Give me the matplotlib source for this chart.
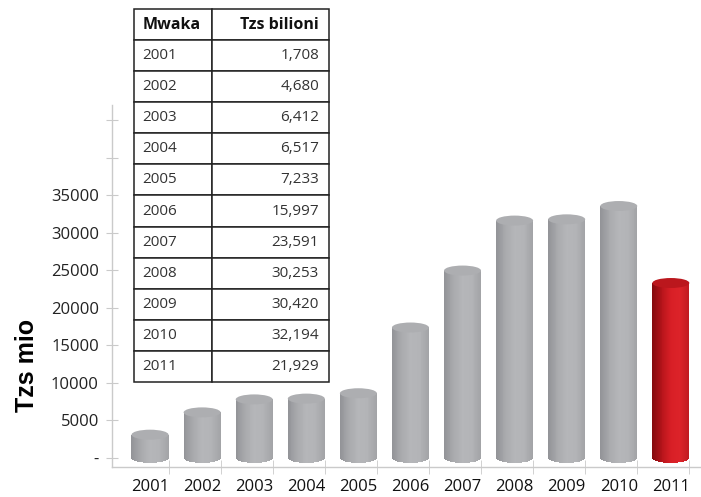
import numpy as np
import matplotlib
matplotlib.use('Agg')
import matplotlib.pyplot as plt
from matplotlib.patches import Ellipse
from matplotlib.colors import LinearSegmentedColormap

years = ['2001', '2002', '2003', '2004', '2005', '2006',
         '2007', '2008', '2009', '2010', '2011']
values = [1708, 4680, 6412, 6517, 7233, 15997,
          23591, 30253, 30420, 32194, 21929]
table_labels = ['1,708', '4,680', '6,412', '6,517', '7,233', '15,997',
                '23,591', '30,253', '30,420', '32,194', '21,929']
ytick_vals = list(range(0, 50000, 5000))
ytick_labels = ['-', '5000', '10000', '15000', '20000', '25000',
                '30000', '35000', '', '']

plt.rcParams['font.family'] = ['Open Sans', 'DejaVu Sans']

gray_cmap = LinearSegmentedColormap.from_list(
    'g', ['#939498', '#a9aaad', '#b5b6b9', '#b3b4b7', '#a3a4a7'])
red_cmap = LinearSegmentedColormap.from_list(
    'r', ['#860a0e', '#b5141a', '#d81f26', '#dc2329', '#c01b21'])
gray_top = '#adaeb1'
red_top = '#bb171d'

fig = plt.figure(figsize=(7.01, 4.97), dpi=100)
ax = fig.add_axes([0.1598, 0.0604, 0.8388, 0.7284])

bar_w = 0.71
ell_h = 1330      # ellipse height in data units
depth = 1400      # 3d offset of the top face
n_strips = 40

for i, v in enumerate(values):
    cmap = red_cmap if i == len(values) - 1 else gray_cmap
    top_col = red_top if i == len(values) - 1 else gray_top
    edges = np.linspace(i - bar_w / 2, i + bar_w / 2, n_strips + 1)
    mids = (edges[:-1] + edges[1:]) / 2
    rel = (mids - i) / (bar_w / 2)
    bottoms = -ell_h / 2 * np.sqrt(np.clip(1 - rel ** 2, 0, 1))
    top = v + depth
    cols = [cmap(t) for t in np.linspace(0, 1, n_strips)]
    ax.bar(mids, top - bottoms, bottom=bottoms, width=edges[1] - edges[0] + 0.002,
           color=cols, linewidth=0, zorder=3)
    ax.add_patch(Ellipse((i, top), bar_w, ell_h, facecolor=top_col,
                         edgecolor='none', zorder=4))

ax.set_xlim(-0.73, 10.56)
ax.set_ylim(-1200, 47067)

for s in ['top', 'right']:
    ax.spines[s].set_visible(False)
for s in ['left', 'bottom']:
    ax.spines[s].set_color('#cacaca')
    ax.spines[s].set_linewidth(1)

ax.set_yticks(ytick_vals)
ax.set_yticklabels(ytick_labels, fontsize=12, color='#222222')
ax.tick_params(axis='y', direction='inout', length=9, color='#cacaca', pad=5)

ax.set_xticks(range(len(years)))
ax.set_xticklabels(years, fontsize=12, color='#111111')
ax.tick_params(axis='x', which='major', length=0, pad=9)
ax.set_xticks([i + 0.355 for i in range(len(years))], minor=True)
ax.tick_params(axis='x', which='minor', direction='inout', length=10,
               color='#cacaca')

ax.set_ylabel('Tzs mio', fontsize=18, fontweight='bold',
              family='Liberation Sans')
ax.yaxis.set_label_coords(-0.124, 0.28)

# data table
tax = fig.add_axes([0.1912, 0.2314, 0.2782, 0.7505])
tax.axis('off')
cell_text = [['Mwaka', 'Tzs bilioni']] + [[y, t] for y, t in zip(years, table_labels)]
tbl = tax.table(cellText=cell_text, bbox=[0, 0, 1, 1],
                colWidths=[78 / 195, 117 / 195], cellLoc='left')
tbl.auto_set_font_size(False)
for (r, c), cell in tbl.get_celld().items():
    cell.set_edgecolor('#222222')
    cell.set_linewidth(1.1)
    cell.set_facecolor('white')
    txt = cell.get_text()
    txt.set_fontsize(11)
    txt.set_color('#333333')
    if c == 1:
        txt.set_horizontalalignment('right')
        cell.PAD = 0.085
    else:
        cell.PAD = 0.11
    if r == 0:
        txt.set_fontweight('bold')
        txt.set_fontsize(11.5)
        txt.set_color('#111111')

fig.savefig('out.png', dpi=100)
